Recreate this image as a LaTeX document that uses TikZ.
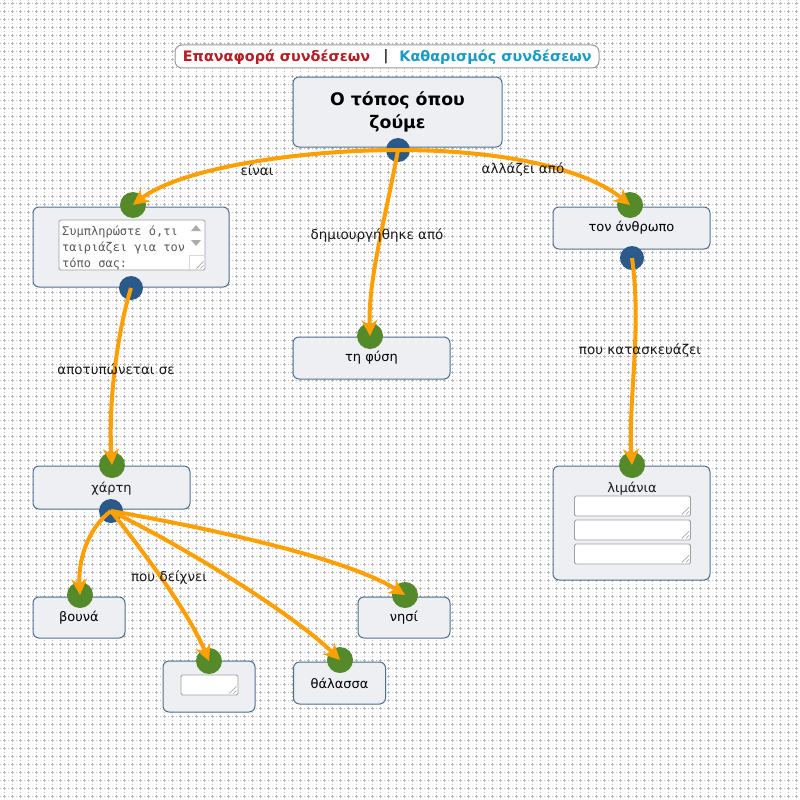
\documentclass[tikz,border=0pt]{standalone}
\usepackage{fontspec}
\usetikzlibrary{arrows.meta,calc}
\newfontfamily\dv{DejaVu Sans}
\newfontfamily\dvmono{DejaVu Sans Mono}
\definecolor{boxfill}{HTML}{EEEFF2}
\definecolor{boxline}{HTML}{4F6F8F}
\definecolor{ingreen}{HTML}{548A29}
\definecolor{outblue}{HTML}{2B5A8A}
\definecolor{edgeorange}{HTML}{FFA000}
\definecolor{btnred}{HTML}{B21E23}
\definecolor{btnteal}{HTML}{1B9BC1}
\definecolor{gridgray}{HTML}{B8B8B8}
\definecolor{tatext}{HTML}{5A5A5A}
\tikzset{
  gridline/.style={draw=gridgray, line width=1pt, dash pattern=on 3pt off 2pt on 1pt off 2pt, dash phase=5.5pt},
  cbox/.style={draw=boxline, fill=boxfill, rounded corners=6pt, line width=1pt, inner sep=0pt,
    font=\dv\fontsize{13}{15}\selectfont},
  tarea/.style={draw=gray!75, fill=white, line width=0.8pt, rounded corners=1.5pt, inner sep=0pt},
  incirc/.style={circle, fill=ingreen, minimum size=26pt, inner sep=0pt},
  outcirc/.style={circle, fill=outblue, minimum size=24pt, inner sep=0pt},
  conn/.style={draw=edgeorange, line width=4pt, -{Stealth[length=16pt,width=16pt,inset=5pt]}},
  elabel/.style={font=\dv\fontsize{13.5}{15}\selectfont, text=black!90, inner sep=1pt},
  tatxt/.style={font=\dvmono\fontsize{12}{14}\selectfont, text=tatext, anchor=west, inner sep=0pt},
  gripline/.style={draw=gray!70, line width=0.7pt},
  btn/.style={font=\dv\bfseries\fontsize{14.4}{16}\selectfont, inner sep=0pt}
}
\newcommand{\mygrip}[1]{%
  \draw[gripline] ($(#1.south east)+(-9,-2)$) -- ($(#1.south east)+(-2,-9)$);
  \draw[gripline] ($(#1.south east)+(-5,-2)$) -- ($(#1.south east)+(-2,-5)$);}
\begin{document}
\begin{tikzpicture}[x=1pt,y=-1pt]
\useasboundingbox (0,0) rectangle (800,800);
\fill[white] (0,0) rectangle (800,800);
% dotted background grid
\foreach \k in {0,...,99} {
  \draw[gridline] ({8*\k+4},0) -- ({8*\k+4},800);
  \draw[gridline] (0,{8*\k+4}) -- (800,{8*\k+4});
}
% button bar
\node[draw=gray!80, fill=white, rounded corners=7pt, line width=1pt, minimum width=424pt, minimum height=23pt] (bar) at (387,56.5) {};
\node[btn, text=btnred] (reset) at (276.5,57) {Επαναφορά συνδέσεων};
\node[btn, text=black!80] (sep) at (386,57) {|};
\node[btn, text=btnteal] (clear) at (495.5,57) {Καθαρισμός συνδέσεων};

% boxes
\node[cbox, minimum width=209pt, minimum height=70pt, align=center,
      font=\dv\bfseries\fontsize{17.3}{23}\selectfont] (root) at (397.5,112) {Ο τόπος όπου\\ζούμε};
\node[cbox, minimum width=196pt, minimum height=80pt] (box1) at (131,247) {};
\node[cbox, minimum width=157pt, minimum height=42pt] (fysi) at (371.5,358) {τη φύση};
\node[cbox, minimum width=157pt, minimum height=42pt] (anthr) at (631.5,228) {τον άνθρωπο};
\node[cbox, minimum width=157pt, minimum height=43pt] (xarti) at (111.5,487.5) {};
\node[cbox, minimum width=157pt, minimum height=114pt] (limania) at (631.5,523) {};
\node[cbox, minimum width=92pt, minimum height=41pt] (vouna) at (79,617.5) {βουνά};
\node[cbox, minimum width=92pt, minimum height=51pt] (empty) at (209,686.5) {};
\node[cbox, minimum width=92pt, minimum height=42pt] (thal) at (339.5,683) {θάλασσα};
\node[cbox, minimum width=92pt, minimum height=41pt] (nisi) at (404,617.5) {νησί};

\node[elabel, font=\dv\fontsize{13}{15}\selectfont] (xartitxt) at (111.5,489) {χάρτη};
\node[elabel, font=\dv\fontsize{13}{15}\selectfont] (limtxt) at (632,489) {λιμάνια};

% textarea in box1
\node[tarea, minimum width=146pt, minimum height=50pt] (ta1) at (132,245) {};
\node[tatxt] (ta1a) at (62,232) {Συμπληρώστε ό,τι};
\node[tatxt] (ta1b) at (62,248) {ταιριάζει για τον};
\node[tatxt] (ta1c) at (62,264) {τόπο σας:};
\fill[gray!65] (191,231) -- (201,231) -- (196,225) -- cycle;
\fill[gray!65] (191,240) -- (201,240) -- (196,246) -- cycle;
\draw[gray!30, line width=0.6pt] (189,269) -- (189,255) -- (204,255);
\mygrip{ta1}

% textareas in limania
\node[tarea, minimum width=116pt, minimum height=20pt] (ta2) at (632.5,506) {};
\node[tarea, minimum width=116pt, minimum height=20pt] (ta3) at (632.5,530) {};
\node[tarea, minimum width=116pt, minimum height=20pt] (ta4) at (632.5,554) {};
\mygrip{ta2}
\mygrip{ta3}
\mygrip{ta4}
% textarea in empty node
\node[tarea, minimum width=57pt, minimum height=20pt] (ta5) at (209.5,685) {};
\mygrip{ta5}

% connection points
\node[outcirc] (rootout) at (398,150) {};
\node[incirc] (box1in) at (133,205) {};
\node[outcirc] (box1out) at (131,288) {};
\node[incirc] (fysiin) at (370,336) {};
\node[incirc] (anthrin) at (630,205) {};
\node[outcirc] (anthrout) at (632,258) {};
\node[incirc] (xartiin) at (112,465) {};
\node[outcirc] (xartiout) at (111,511) {};
\node[incirc] (limin) at (632,465) {};
\node[incirc] (vounain) at (80,595) {};
\node[incirc] (emptyin) at (209,661) {};
\node[incirc] (thalin) at (340,660) {};
\node[incirc] (nisiin) at (405,595) {};

% connectors
\draw[conn] (rootout.center) .. controls (300,150) and (180,168) .. (box1in.center);
\draw[conn] (rootout.center) .. controls (385,220) and (368,280) .. (fysiin.center);
\draw[conn] (rootout.center) .. controls (500,150) and (585,168) .. (anthrin.center);
\draw[conn] (box1out.center) .. controls (118,330) and (108,400) .. (xartiin.center);
\draw[conn] (anthrout.center) .. controls (642,330) and (628,400) .. (limin.center);
\draw[conn] (xartiout.center) .. controls (88,528) and (78,560) .. (vounain.center);
\draw[conn] (xartiout.center) .. controls (150,560) and (190,615) .. (emptyin.center);
\draw[conn] (xartiout.center) .. controls (200,555) and (300,620) .. (thalin.center);
\draw[conn] (xartiout.center) .. controls (220,530) and (350,560) .. (nisiin.center);

% connector labels
\node[elabel] (l1) at (257,170) {είναι};
\node[elabel] (l2) at (377,236) {δημιουργήθηκε από};
\node[elabel] (l3) at (523,170) {αλλάζει από};
\node[elabel] (l4) at (116,369) {αποτυπώνεται σε};
\node[elabel] (l5) at (640,351) {που κατασκευάζει};
\node[elabel] (l6) at (169,578) {που δείχνει};
\end{tikzpicture}
\end{document}
